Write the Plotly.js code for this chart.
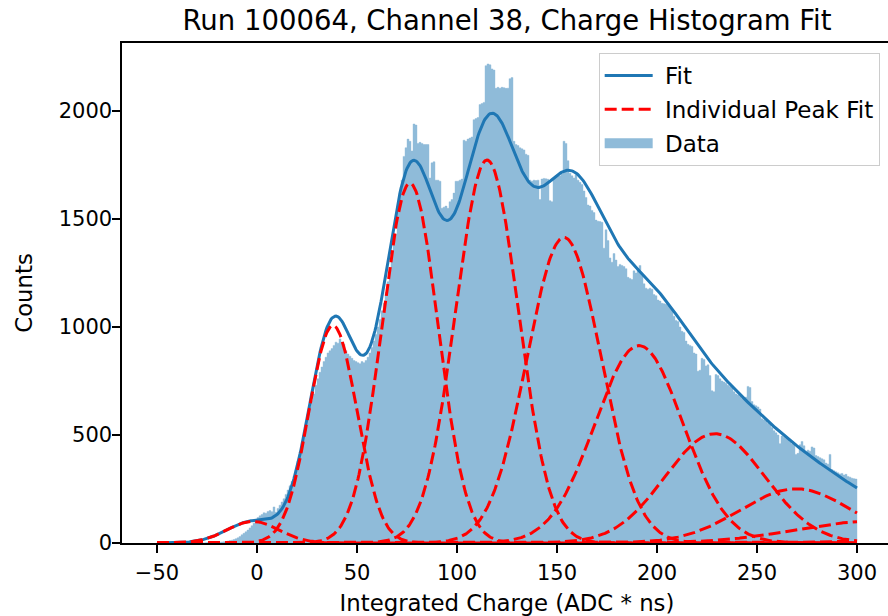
<!DOCTYPE html>
<html><head><meta charset="utf-8">
<script src="https://cdn.plot.ly/plotly-3.0.1.min.js"></script>
<style>html,body{margin:0;padding:0;overflow:hidden;background:#fff}#chart{width:900px;height:616px}</style>
</head><body><div id="chart"></div>
<script>
// Histogram: bins of width 1 starting at -50 (ADC*ns)
const binStart = -50;
const binWidth = 1;
const counts = [
  0,0,0,0,0,0,0,0,0,0,
  0,0,0,0,0,0,0,0,0,0,
  0,0,1,0,1,1,1,2,2,3,
  3,4,5,6,7,9,11,13,16,20,
  24,30,38,45,52,60,70,80,92,105,
  118,126,132,140,138,146,150,145,167,142,
  160,175,190,205,225,245,265,285,310,335,
  380,420,460,500,545,590,630,660,690,730,
  760,790,815,840,860,880,890,900,915,930,
  925,945,930,920,890,875,865,855,845,840,
  835,830,840,835,845,860,880,905,935,965,
  1000,1035,1075,1110,1160,1210,1260,1320,1380,1430,
  1560,1620,1680,1790,1830,1870,1860,1815,1940,1935,
  1850,1855,1850,1845,1845,1845,1690,1760,1765,1680,
  1680,1675,1550,1555,1560,1550,1580,1590,1620,1675,
  1675,1680,1685,1865,1860,1870,1875,1880,1960,1965,
  1970,2030,2035,2040,2210,2218,2214,2195,2190,2105,
  2110,2105,2110,2108,2105,2106,2150,2155,1860,1845,
  1840,1830,1825,1820,1800,1795,1680,1675,1680,1678,
  1680,1590,1685,1688,1686,1684,1585,1580,1690,1700,
  1705,1700,1710,1860,1850,1770,1712,1700,1690,1705,
  1680,1670,1660,1630,1600,1565,1560,1540,1530,1495,
  1490,1488,1485,1365,1450,1400,1320,1300,1340,1310,
  1280,1290,1285,1280,1270,1230,1225,1220,1260,1250,
  1270,1285,1240,1200,1180,1175,1180,1175,1150,1145,
  1125,1120,1110,1108,1105,1100,1090,1080,1050,1030,
  1025,1000,980,975,935,920,915,910,880,875,
  795,800,855,850,820,825,775,705,700,780,
  775,760,750,745,740,730,725,720,700,690,
  685,680,670,668,675,725,720,655,640,635,
  630,620,575,570,565,555,550,535,520,510,
  500,460,495,490,485,480,470,460,455,410,
  415,455,470,450,420,430,425,445,440,405,
  400,395,390,385,370,365,410,340,335,330,
  325,320,322,315,318,308,305,300,298,296
];

// Fitted Gaussian peaks
const peakMeans  = [-2, 38, 76.5, 115, 153.5, 191, 229, 269.5, 307, 345];
const peakSigmas = [13, 12, 14, 15.7, 18.5, 22, 25, 28, 38, 42];
const peakAmps   = [100, 1007, 1666, 1773, 1415, 914, 506, 251, 100, 15];
const fitRange = [-50, 300];
const fitStep = 0.5;

const titleText = "Run 100064, Channel 38, Charge Histogram Fit";
const xLabel = "Integrated Charge (ADC * ns)";
const yLabel = "Counts";
const legendNames = ["Fit", "Individual Peak Fit", "Data"];
const xTicks = [-50, 0, 50, 100, 150, 200, 250, 300];
const yTicks = [0, 500, 1000, 1500, 2000];

const barX = counts.map((_, i) => binStart + (i + 0.5) * binWidth);

const fitX = [];
for (let x = fitRange[0]; x <= fitRange[1] + 1e-9; x += fitStep) fitX.push(+x.toFixed(3));
const gauss = (x, a, m, s) => a * Math.exp(-((x - m) * (x - m)) / (2 * s * s));
const peakYs = peakMeans.map((m, k) => fitX.map(x => gauss(x, peakAmps[k], m, peakSigmas[k])));
const fitY = fitX.map((x, j) => peakYs.reduce((s, ys) => s + ys[j], 0));

const FONT = "DejaVu Sans, Liberation Sans, sans-serif";
const BAR_COLOR = '#8fbbd9';
const GAP = ' '; // small gap between legend swatch and text

const traces = [];
traces.push({
  type: 'bar', x: barX, y: counts, width: binWidth, name: legendNames[2],
  marker: {color: BAR_COLOR, line: {color: BAR_COLOR, width: 0.4}},
  showlegend: false, hoverinfo: 'x+y'
});
traces.push({
  type: 'scatter', mode: 'lines', x: fitX, y: fitY, name: GAP + legendNames[0],
  line: {color: '#1f77b4', width: 3}, legendrank: 1, legendgroup: 'fit'
});
peakYs.forEach((ys, k) => {
  traces.push({
    type: 'scatter', mode: 'lines', x: fitX, y: ys, name: GAP + legendNames[1],
    line: {color: '#ff0000', width: 3, dash: '12px,5px'},
    legendrank: 2, legendgroup: 'peaks', showlegend: k === 0
  });
});
// legend entry for the histogram (patch-like swatch)
traces.push({
  type: 'scatter', mode: 'lines', x: [null], y: [null], name: GAP + legendNames[2],
  line: {color: BAR_COLOR, width: 16}, legendrank: 3, legendgroup: 'data', hoverinfo: 'skip'
});

const layout = {
  width: 900, height: 616,
  margin: {l: 122, r: 8, t: 43, b: 73},
  paper_bgcolor: '#ffffff', plot_bgcolor: '#ffffff',
  font: {family: FONT, size: 21, color: '#000000'},
  bargap: 0,
  showlegend: true,
  title: {text: titleText, font: {family: FONT, size: 27.5, color: '#000'},
          x: 0.5, xref: 'paper', xanchor: 'center', y: 1 - 20/616, yref: 'container', yanchor: 'middle'},
  xaxis: {
    range: [-67.5, 317.5], tickmode: 'array', tickvals: xTicks,
    ticks: 'outside', ticklen: 8, tickwidth: 1.6, tickcolor: '#000',
    showline: true, linecolor: '#000', linewidth: 1.6, mirror: true,
    showgrid: false, zeroline: false,
    tickfont: {family: FONT, size: 21}, ticklabelstandoff: 2,
    title: {text: xLabel, font: {family: FONT, size: 22.8}, standoff: 11}
  },
  yaxis: {
    range: [0, 2315], tickmode: 'array', tickvals: yTicks,
    ticks: 'outside', ticklen: 8, tickwidth: 1.6, tickcolor: '#000',
    showline: true, linecolor: '#000', linewidth: 1.6, mirror: true,
    showgrid: false, zeroline: false,
    tickfont: {family: FONT, size: 21}, ticklabelstandoff: -4,
    title: {text: yLabel, font: {family: FONT, size: 22.8}, standoff: 20}
  },
  legend: {
    x: 0.984, xanchor: 'right', y: 0.98, yanchor: 'top',
    bgcolor: 'rgba(255,255,255,0.85)', bordercolor: '#cccccc', borderwidth: 1,
    font: {family: FONT, size: 23}, traceorder: 'grouped', tracegroupgap: 1,
    itemwidth: 48
  }
};

Plotly.newPlot('chart', traces, layout, {displayModeBar: false, staticPlot: true});
</script>
</body></html>
